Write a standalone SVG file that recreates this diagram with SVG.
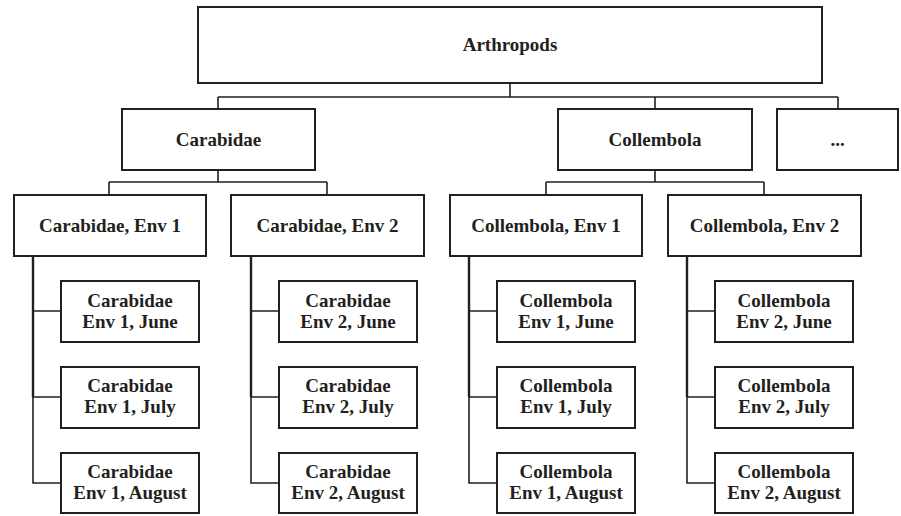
<svg xmlns="http://www.w3.org/2000/svg" width="901" height="516" viewBox="0 0 901 516">
<style>
rect{fill:#fff;stroke:#231f20;stroke-width:2}
text{font-family:"Liberation Serif","Times New Roman",serif;font-weight:bold;font-size:19px;fill:#231f20;text-anchor:middle}
.c{fill:none;stroke:#231f20;stroke-width:1.6}
.t{fill:none;stroke:#231f20;stroke-width:2.4}
</style>
<g id="connectors">
<path class="c" d="M510 83V97M218 97H838M218 97V109M655 97V109M838 97V109"/>
<path class="c" d="M218 170V182M109 182H327M109 182V195M327 182V195"/>
<path class="c" d="M655 170V182M546 182H764M546 182V195M764 182V195"/>
<path class="t" d="M33 256V397M251 256V397M469 256V397M687 256V397"/>
<path class="c" d="M33 397V483H61M33 311H61M33 397H61M251 397V483H279M251 311H279M251 397H279M469 397V483H497M469 311H497M469 397H497M687 397V483H715M687 311H715M687 397H715"/>
</g>
<g id="arthropods"><rect x="198" y="7" width="624" height="76"/><text x="510" y="51">Arthropods</text></g>
<g id="carabidae"><rect x="122" y="109" width="193" height="61"/><text x="218.5" y="146">Carabidae</text></g>
<g id="collembola"><rect x="558" y="109" width="194" height="61"/><text x="655" y="146">Collembola</text></g>
<g id="more"><rect x="777" y="109" width="121" height="61"/><text x="837.5" y="146">...</text></g>
<g id="carabidae-env1"><rect x="14" y="195" width="192" height="61"/><text x="110" y="232">Carabidae, Env 1</text></g>
<g id="carabidae-env2"><rect x="231" y="195" width="193" height="61"/><text x="327.5" y="232">Carabidae, Env 2</text></g>
<g id="collembola-env1"><rect x="450" y="195" width="192" height="61"/><text x="546" y="232">Collembola, Env 1</text></g>
<g id="collembola-env2"><rect x="668" y="195" width="193" height="61"/><text x="764.5" y="232">Collembola, Env 2</text></g>
<g id="car1-june"><rect x="61" y="281" width="138" height="61"/><text x="130" y="307">Carabidae</text><text x="130" y="328">Env 1, June</text></g>
<g id="car1-july"><rect x="61" y="367" width="138" height="61"/><text x="130" y="392">Carabidae</text><text x="130" y="413">Env 1, July</text></g>
<g id="car1-aug"><rect x="61" y="453" width="138" height="60"/><text x="130" y="478">Carabidae</text><text x="130" y="499">Env 1, August</text></g>
<g id="car2-june"><rect x="279" y="281" width="138" height="61"/><text x="348" y="307">Carabidae</text><text x="348" y="328">Env 2, June</text></g>
<g id="car2-july"><rect x="279" y="367" width="138" height="61"/><text x="348" y="392">Carabidae</text><text x="348" y="413">Env 2, July</text></g>
<g id="car2-aug"><rect x="279" y="453" width="138" height="60"/><text x="348" y="478">Carabidae</text><text x="348" y="499">Env 2, August</text></g>
<g id="col1-june"><rect x="497" y="281" width="138" height="61"/><text x="566" y="307">Collembola</text><text x="566" y="328">Env 1, June</text></g>
<g id="col1-july"><rect x="497" y="367" width="138" height="61"/><text x="566" y="392">Collembola</text><text x="566" y="413">Env 1, July</text></g>
<g id="col1-aug"><rect x="497" y="453" width="138" height="60"/><text x="566" y="478">Collembola</text><text x="566" y="499">Env 1, August</text></g>
<g id="col2-june"><rect x="715" y="281" width="138" height="61"/><text x="784" y="307">Collembola</text><text x="784" y="328">Env 2, June</text></g>
<g id="col2-july"><rect x="715" y="367" width="138" height="61"/><text x="784" y="392">Collembola</text><text x="784" y="413">Env 2, July</text></g>
<g id="col2-aug"><rect x="715" y="453" width="138" height="60"/><text x="784" y="478">Collembola</text><text x="784" y="499">Env 2, August</text></g>
</svg>
